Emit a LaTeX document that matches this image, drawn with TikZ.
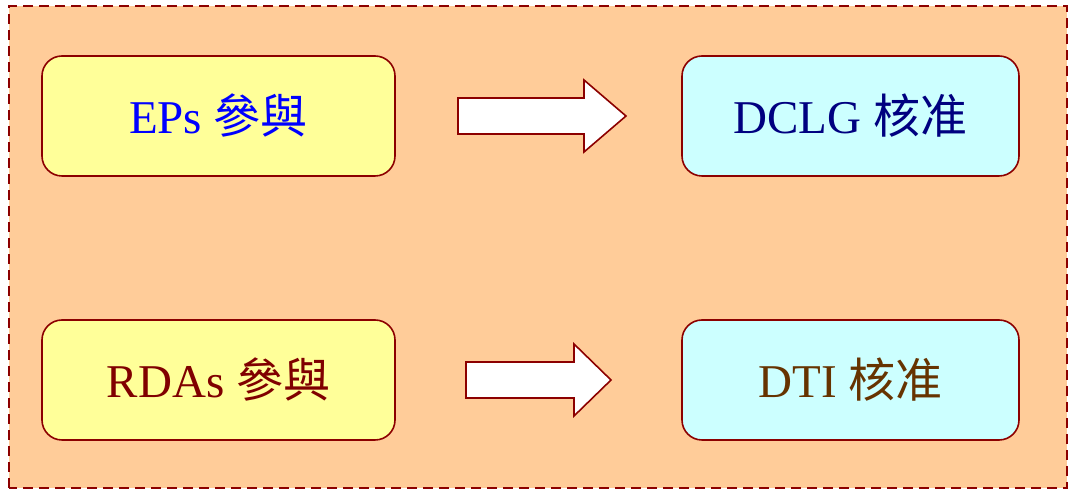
\documentclass[tikz,border=0pt]{standalone}
\usepackage{fontspec}
\setmainfont{Liberation Serif}
\newfontfamily\cjk{Noto Sans CJK TC}
\definecolor{bgc}{RGB}{255,204,153}
\definecolor{edge}{RGB}{140,0,0}
\definecolor{yel}{RGB}{255,255,153}
\definecolor{cya}{RGB}{204,255,255}
\definecolor{navyc}{RGB}{0,0,128}
\definecolor{maroonc}{RGB}{128,0,0}
\definecolor{brownc}{RGB}{102,51,0}
\tikzset{
  box/.style={draw=edge, line width=1.6pt, rounded corners=20pt,
    minimum width=353pt, minimum height=120pt, inner sep=0pt,
    font=\fontsize{47}{50}\selectfont},
  rbox/.style={box, minimum width=337pt},
  blockarrow/.style={draw=edge, line width=1.6pt, fill=white, line join=miter},
}
\begin{document}
\begin{tikzpicture}[x=1pt,y=1pt]
\useasboundingbox (0,0) rectangle (1071,489);
\fill[white] (0,0) rectangle (1071,489);
\draw[draw=edge, fill=bgc, line width=2pt, dash pattern=on 10pt off 6pt] (9,1) rectangle (1067,483);
\node[box, fill=yel, text=blue] (eps) at (218.5,373) {EPs {\cjk 參與}};
\node[rbox, fill=cya, text=navyc] (dclg) at (850.5,373) {DCLG {\cjk 核准}};
\node[box, fill=yel, text=maroonc] (rdas) at (218.5,109) {RDAs {\cjk 參與}};
\node[rbox, fill=cya, text=brownc] (dti) at (850.5,109) {DTI {\cjk 核准}};
% block arrows
\draw[blockarrow] (458,391) -- (584,391) -- (584,409) -- (626,373) -- (584,337) -- (584,355) -- (458,355) -- cycle;
\draw[blockarrow] (466,127) -- (574,127) -- (574,145) -- (611,109) -- (574,73) -- (574,91) -- (466,91) -- cycle;
\end{tikzpicture}
\end{document}
